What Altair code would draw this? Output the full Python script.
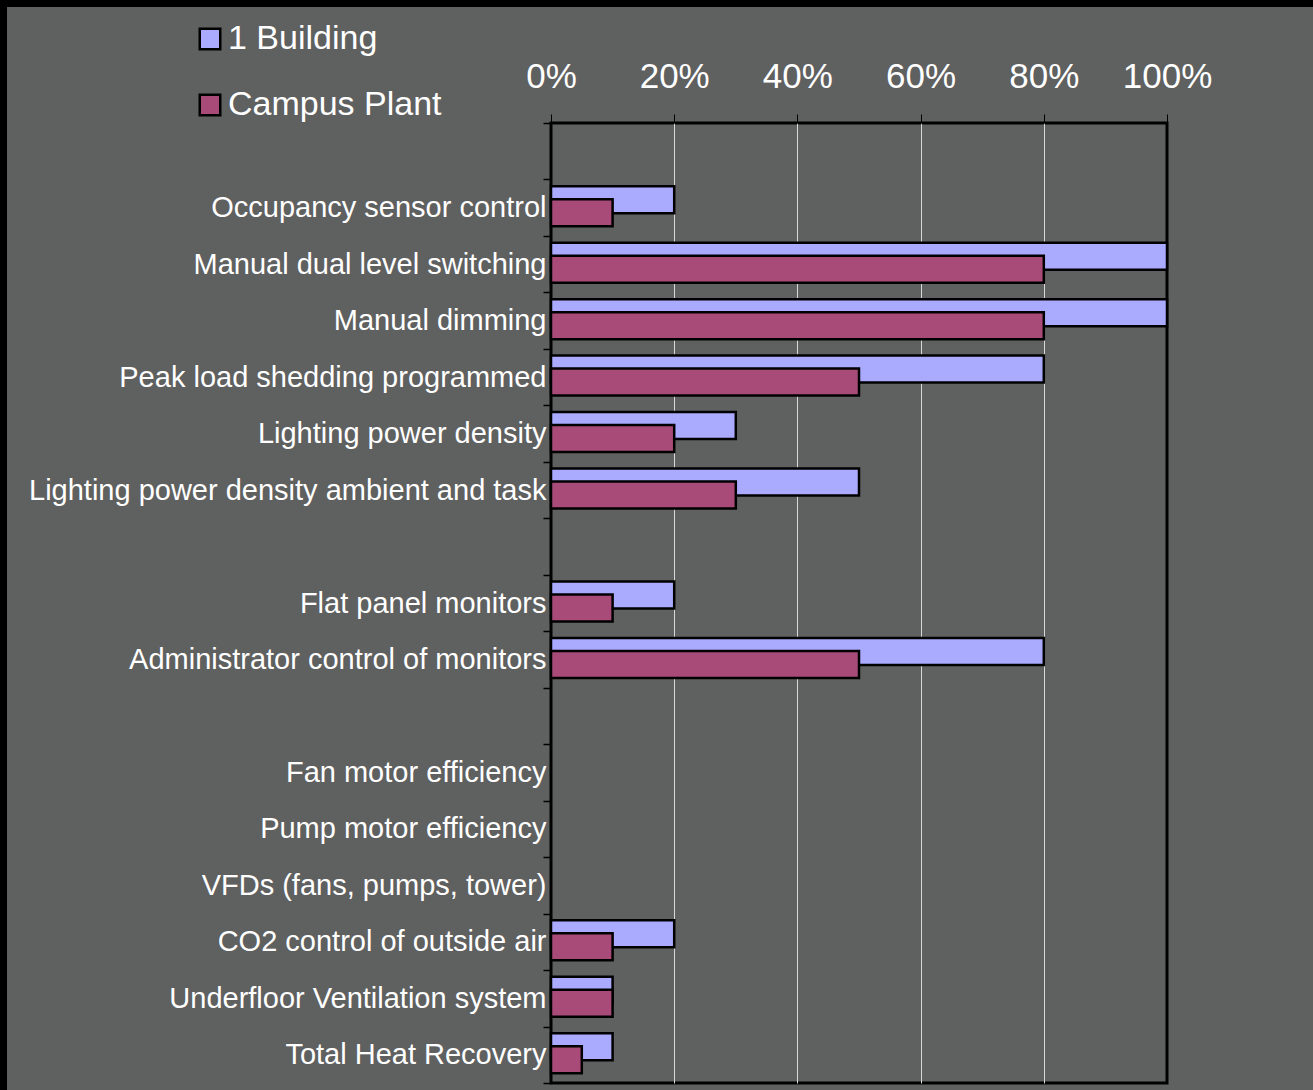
import altair as alt
import pandas as pd

categories = [
    " ",
    "Occupancy sensor control",
    "Manual dual level switching",
    "Manual dimming",
    "Peak load shedding programmed",
    "Lighting power density",
    "Lighting power density ambient and task",
    "  ",
    "Flat panel monitors",
    "Administrator control of monitors",
    "   ",
    "Fan motor efficiency",
    "Pump motor efficiency",
    "VFDs (fans, pumps, tower)",
    "CO2 control of outside air",
    "Underfloor Ventilation system",
    "Total Heat Recovery",
]
building = [None, 0.20, 1.00, 1.00, 0.80, 0.30, 0.50, None, 0.20, 0.80, None, None, None, None, 0.20, 0.10, 0.10]
campus = [None, 0.10, 0.80, 0.80, 0.50, 0.20, 0.30, None, 0.10, 0.50, None, None, None, None, 0.10, 0.10, 0.05]
series_names = ["1 Building", "Campus Plant"]
tick_values = [0, 0.2, 0.4, 0.6, 0.8, 1.0]

BG = "#5f6060"
BLUE = "#aaaaff"
PURPLE = "#a94b78"
FONT = "Liberation Sans"

rows = []
for c, b, p in zip(categories, building, campus):
    rows.append({"category": c, "series": series_names[0], "value": b})
    rows.append({"category": c, "series": series_names[1], "value": p})
df = pd.DataFrame(rows)

y_enc = alt.Y(
    "category:N",
    scale=alt.Scale(domain=categories, paddingInner=0, paddingOuter=0),
    axis=alt.Axis(
        title=None,
        domain=False,
        ticks=True,
        tickBand="extent",
        tickSize=8,
        tickColor="black",
        tickWidth=1.5,
        labelColor="white",
        labelFont=FONT,
        labelFontSize=29,
        labelPadding=-3,
        labelLimit=0,
        grid=False,
    ),
)
x_enc = alt.X(
    "value:Q",
    scale=alt.Scale(domain=[0, 1], nice=False, zero=True),
    axis=alt.Axis(
        orient="top",
        title=None,
        format="%",
        values=tick_values,
        domain=False,
        tickSize=9,
        tickColor="black",
        tickWidth=1,
        labelColor="white",
        labelFont=FONT,
        labelFontSize=35,
        labelPadding=27,
        labelBaseline="alphabetic",
        labelOverlap=False,
        labelFlush=False,
        grid=True,
        gridColor=alt.condition(
            "datum.value <= 0 || datum.value >= 1",
            alt.value("transparent"),
            alt.value("#d8d8d8"),
        ),
        gridWidth=1,
    ),
)
color_enc = alt.Color(
    "series:N",
    scale=alt.Scale(domain=series_names, range=[BLUE, PURPLE]),
    legend=alt.Legend(
        orient="none",
        legendX=-358,
        legendY=-101,
        title=None,
        symbolType="square",
        symbolSize=420,
        symbolStrokeColor="black",
        symbolStrokeWidth=2.5,
        symbolOpacity=1,
        labelFont=FONT,
        labelFontSize=34,
        labelColor="white",
        labelLimit=0,
        rowPadding=32,
        labelOffset=1,
        padding=0,
        direction="vertical",
    ),
)

base = alt.Chart(df)
bars_b = base.transform_filter(alt.datum.series == series_names[0]).mark_bar(
    size=27, yOffset=-8, stroke="black", strokeWidth=2.5, opacity=1
).encode(x=x_enc, y=y_enc, color=color_enc)
bars_c = base.transform_filter(alt.datum.series == series_names[1]).mark_bar(
    size=27, yOffset=5, stroke="black", strokeWidth=2.5, opacity=1
).encode(x=x_enc, y=y_enc, color=color_enc)

frame_df = pd.DataFrame({"k": [0]})
left_strip = alt.Chart(frame_df).mark_rect(color="black").encode(
    x=alt.value(-551), x2=alt.value(-544), y=alt.value(-123), y2=alt.value(967)
)
top_strip = alt.Chart(frame_df).mark_rect(color="black").encode(
    x=alt.value(-551), x2=alt.value(762), y=alt.value(-123), y2=alt.value(-116)
)

chart = (
    alt.layer(bars_b, bars_c, left_strip, top_strip)
    .properties(
        width=616,
        height=960,
        background=BG,
        padding={"left": 551, "top": 123, "right": 146, "bottom": 7},
        autosize=alt.AutoSizeParams(type="none"),
    )
    .configure(font=FONT)
    .configure_view(stroke="black", strokeWidth=3, fill=BG)
)

chart.save("out.html", embed_options={"renderer": "svg", "actions": False})
